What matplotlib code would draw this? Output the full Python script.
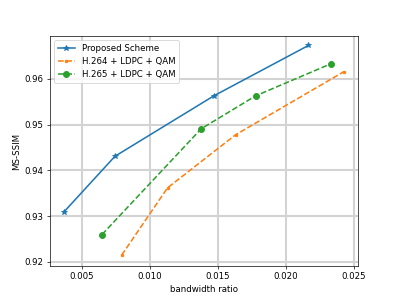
import matplotlib
matplotlib.use("Agg")
import matplotlib.pyplot as plt

# bandwidth ratio vs MS-SSIM
prop_x = [0.00368, 0.00744, 0.0147, 0.02164]
prop_y = [0.9309, 0.9431, 0.9563, 0.9673]

h264_x = [0.00793, 0.0113, 0.0163, 0.02426]
h264_y = [0.9215, 0.9362, 0.9478, 0.9616]

h265_x = [0.00649, 0.01377, 0.01777, 0.02329]
h265_y = [0.9260, 0.9491, 0.9563, 0.9633]

DPI = 62.2
fig, ax = plt.subplots(figsize=(398 / DPI, 299 / DPI), dpi=DPI)
ax.plot(prop_x, prop_y, "-*", color="#1f77b4", lw=1.8, markersize=7,
        label="Proposed Scheme")
ax.plot(h264_x, h264_y, "--.", color="#ff7f0e", lw=1.8,
        label="H.264 + LDPC + QAM")
ax.plot(h265_x, h265_y, "--o", color="#2ca02c", lw=1.8, markersize=7,
        label="H.265 + LDPC + QAM")

ax.set_xlim(0.00265, 0.0253)
ax.set_ylim(0.9191, 0.9694)
ax.set_xticks([0.005, 0.010, 0.015, 0.020, 0.025])
ax.set_yticks([0.92, 0.93, 0.94, 0.95, 0.96])
ax.grid(True, color="#d3d3d3", lw=2.4)
ax.set_xlabel("bandwidth ratio")
ax.set_ylabel("MS-SSIM")
ax.legend(loc="upper left")

fig.savefig("out.png", dpi=DPI)
